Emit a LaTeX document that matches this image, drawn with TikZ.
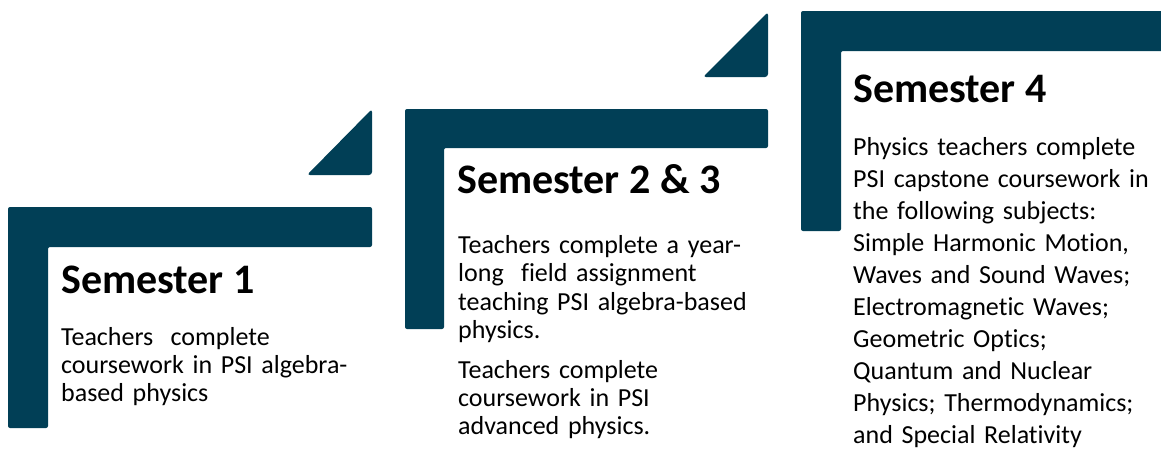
\documentclass[tikz,border=0pt]{standalone}
\usepackage{fontspec}
\setmainfont{Carlito}[Ligatures=NoCommon]
\definecolor{teal}{RGB}{1,63,86}
\begin{document}
\begin{tikzpicture}[x=1pt,y=-1pt,
  bracket/.style={fill=teal,rounded corners=2pt},
  wedge/.style={fill=teal,rounded corners=3pt},
  heading/.style={anchor=base west,inner sep=0pt,font=\fontsize{42}{48}\selectfont\bfseries},
  body/.style={anchor=base west,inner sep=0pt,align=left,text width=320pt}]
\useasboundingbox (0,0) rectangle (1161,453);

% Semester 1 bracket and wedge
\fill[bracket] (8,207) -- (372,207) -- (372,247) -- (48,247) -- (48,428) -- (8,428) -- cycle;
\fill[wedge] (307,175) -- (372,175) -- (372,109) -- cycle;
% Semester 2 & 3 bracket and wedge
\fill[bracket] (405,109) -- (768,109) -- (768,148) -- (444,148) -- (444,329) -- (405,329) -- cycle;
\fill[wedge] (703,77) -- (768,77) -- (768,12) -- cycle;
% Semester 4 bracket
\fill[bracket] (801,11) -- (1175,11) -- (1175,51) -- (841,51) -- (841,231) -- (801,231) -- cycle;

% Texts
\node[heading] (h1) at (61,293) {Semester 1};
\node[body,font=\fontsize{26}{28}\selectfont] (b1) at (61,345)
  {Teachers\ \ complete\\coursework in PSI algebra-\\based physics};

\node[heading] (h2) at (457,193) {Semester 2 \& 3};
\node[body,font=\fontsize{26}{28.5}\selectfont] (b2) at (458,253)
  {Teachers complete a year-\\long\ \ field assignment\\teaching PSI algebra-based\\physics.};
\node[body,font=\fontsize{26}{28}\selectfont] (b3) at (458,378)
  {Teachers complete\\coursework in PSI\\advanced physics.};

\node[heading] (h4) at (853,102) {Semester 4};
\node[body,font=\fontsize{26}{32.1}\selectfont] (b4) at (853,155)
  {Physics teachers complete\\PSI capstone coursework in\\the following subjects:\\Simple Harmonic Motion,\\Waves and Sound Waves;\\Electromagnetic Waves;\\Geometric Optics;\\Quantum and Nuclear\\Physics; Thermodynamics;\\and Special Relativity};
\end{tikzpicture}
\end{document}
